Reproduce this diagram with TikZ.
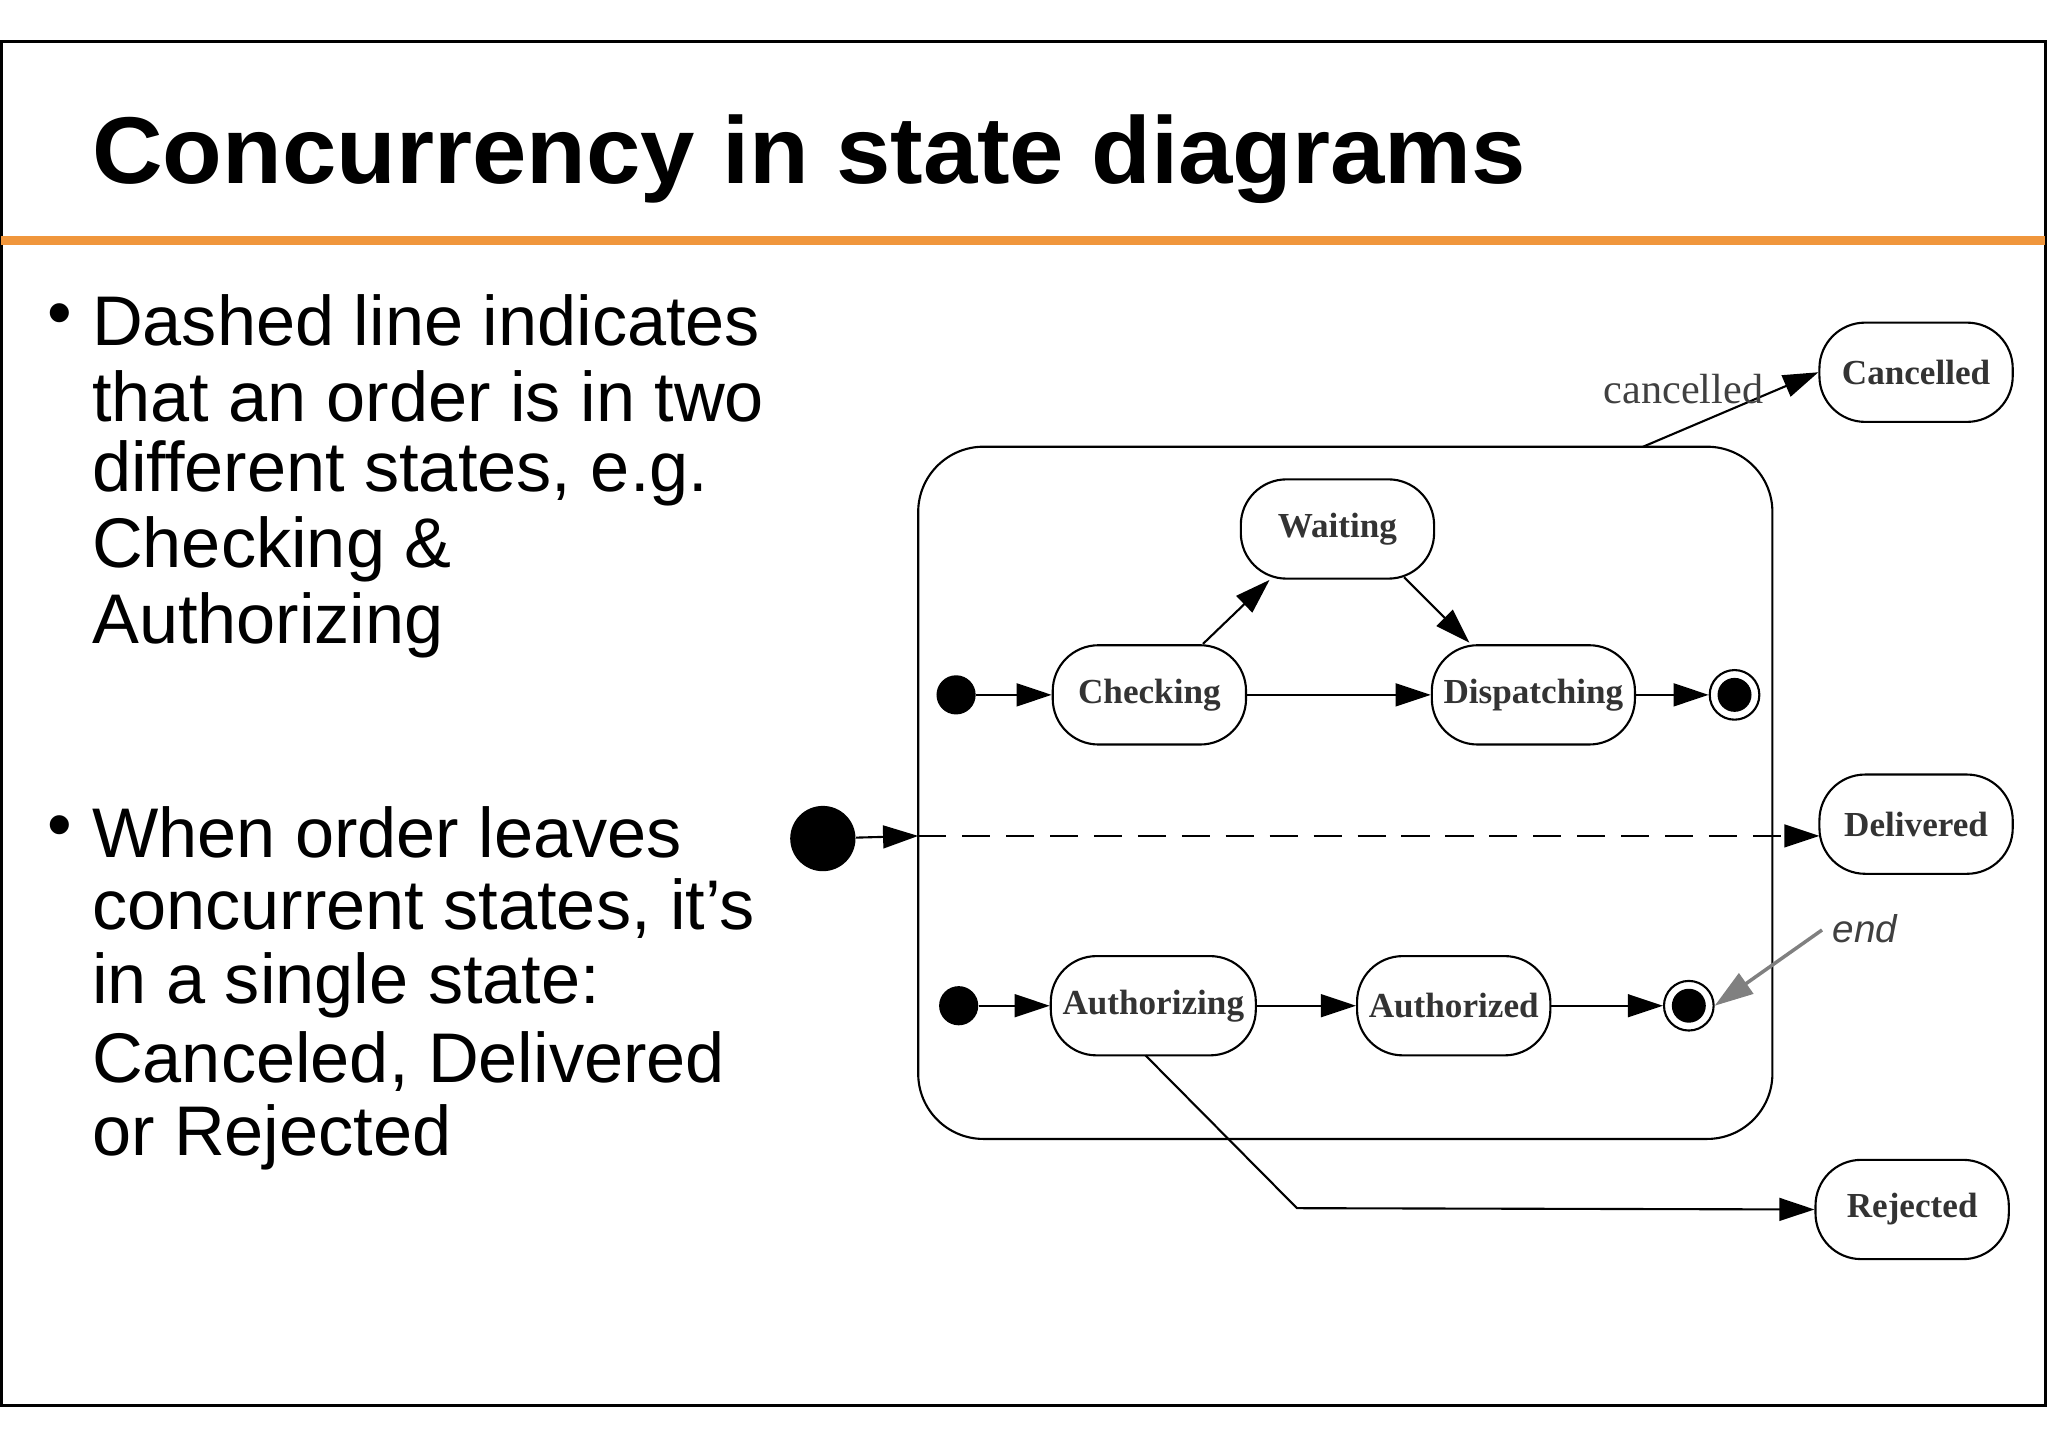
\documentclass[tikz,border=0pt]{standalone}
\usepackage{fontspec}
\setmainfont{Liberation Serif}
\newfontfamily\hsans{Liberation Sans}
\usetikzlibrary{arrows.meta}
\definecolor{orangeline}{RGB}{240,150,60}
\begin{document}
\begin{tikzpicture}[x=0.013061cm,y=-0.013061cm,
  st/.style={draw,rounded corners=13pt,minimum width=148*0.013061cm,minimum height=76*0.013061cm,font=\bfseries\fontsize{10}{12}\selectfont,text=black!80,line width=0.6pt},
  arr/.style={-{Triangle[length=10pt,width=6.5pt]},line width=0.6pt},
  bul/.style={anchor=west,font=\hsans\fontsize{20}{24}\selectfont,inner sep=0pt}]
\useasboundingbox (0,0) rectangle (1568,1108.6);
\draw[line width=0.8pt] (1,32) rectangle (1566,1076);
\draw[orangeline,line width=2.5pt] (1,184) -- (1566,184);
\node[anchor=west,font=\hsans\bfseries\fontsize{27}{32}\selectfont,inner sep=0pt,xscale=1.03] (title) at (70,122) {Concurrency in state diagrams};
% bullets
\node[bul] (b1) at (36,245) {•};
\foreach \t [count=\i] in {Dashed line indicates,that an order is in two,{different states, e.g.},Checking \&,Authorizing}
  \node[bul] (l\i) at (70,245+58.5*\i-58.5) {\t};
\node[bul] (b2) at (36,637) {•};
\foreach \t [count=\i] in {When order leaves,{concurrent states, it’s},in a single state:,{Canceled, Delivered},or Rejected}
  \node[bul] (m\i) at (70,637+58.5*\i-58.5) {\t};
% diagram
\draw[line width=0.6pt,rounded corners=50*0.013061cm] (703,342) rectangle (1357,872);
\node[st] (wait) at (1024,405) {Waiting};
\node[st] (chk) at (880,532) {Checking};
\node[st] (dis) at (1174,532) {Dispatching};
\node[st] (auth) at (883,770) {Authorizing};
\node[st] (authd) at (1113,770) {Authorized};
\node[st] (canc) at (1467,285) {Cancelled};
\node[st] (deliv) at (1467,631) {Delivered};
\node[st] (rej) at (1464,926) {Rejected};
\node[circle,fill,minimum size=30*0.013061cm,inner sep=0pt] (i1n) at (732,532) {};
\node[circle,fill,minimum size=30*0.013061cm,inner sep=0pt] (i2n) at (734,770) {};
\node[circle,draw,line width=0.6pt,minimum size=38*0.013061cm,inner sep=0pt] (f1) at (1328,532) {};
\fill (1328,532) circle (13);
\node[circle,draw,line width=0.6pt,minimum size=38*0.013061cm,inner sep=0pt] (f2) at (1293,770) {};
\fill (1293,770) circle (13);
\node[circle,fill,minimum size=50*0.013061cm,inner sep=0pt] (i0) at (630,642) {};
\coordinate (bx) at (703,640);
\coordinate (dw) at (1393,640);
\draw[arr] (i0) -- (bx);
\draw[arr,dash pattern=on 8pt off 4.5pt] (bx) -- (dw);
\draw[arr] (i1n) -- (chk);
\draw[arr] (chk) -- (dis);
\draw[arr] (dis) -- (f1);
\coordinate (c1) at (921,493);
\coordinate (c2) at (972,444);
\draw[arr] (c1) -- (c2);
\coordinate (w1) at (1075,442);
\coordinate (w2) at (1125,492);
\draw[arr] (w1) -- (w2);
\draw[arr] (i2n) -- (auth);
\draw[arr] (auth) -- (authd);
\draw[arr] (authd) -- (f2);
\coordinate (cs) at (1258,342);
\draw[arr] (cs) -- (canc.west);
\node[font=\fontsize{12}{14}\selectfont,text=black!75] (cl) at (1289,298) {cancelled};
\coordinate (ab) at (877,808);
\coordinate (rk) at (993,925);
\draw[arr] (ab) -- (rk) -- (rej.west);
\node[font=\hsans\itshape\fontsize{11}{13}\selectfont,text=black!75] (endl) at (1428,711) {end};
\coordinate (es) at (1395,712);
\draw[-{Triangle[length=11pt,width=7pt]},gray,line width=1pt] (es) -- (f2.east);
\end{tikzpicture}
\end{document}
